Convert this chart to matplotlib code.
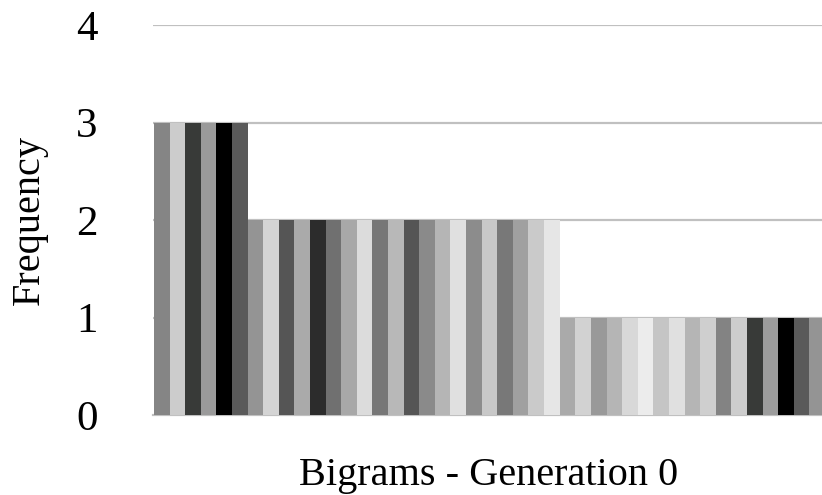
import matplotlib.pyplot as plt

# frecuencia de cada bigrama (generacion 0), en el orden del grafico
freq = [3, 3, 3, 3, 3, 3,
        2, 2, 2, 2, 2, 2, 2, 2, 2, 2, 2, 2, 2, 2, 2, 2, 2, 2, 2, 2,
        1, 1, 1, 1, 1, 1, 1, 1, 1, 1, 1, 1, 1, 1, 1, 1, 1]
yticks = [0, 1, 2, 3, 4]

bar_colors = ["#858585", "#cccccc", "#383a38", "#9a9a9a", "#000000", "#5a5a5a",
              "#949494", "#d4d4d4", "#555555", "#aaaaaa", "#2c2c2c", "#707070",
              "#a8a8a8", "#dcdcdc", "#777777", "#b8b8b8", "#555555", "#8a8a8a",
              "#b5b5b5", "#e0e0e0", "#8c8c8c", "#c8c8c8", "#787878", "#a0a0a0",
              "#cacaca", "#e6e6e6",
              "#aaaaaa", "#d2d2d2", "#999999", "#b5b5b5", "#d8d8d8", "#ececec",
              "#c5c5c5", "#e0e0e0", "#b5b5b5", "#cfcfcf", "#838383", "#cdcdcd",
              "#383a38", "#9c9c9c", "#000000", "#5a5a5a", "#949494"]

plt.rcParams['font.family'] = ['Liberation Serif', 'DejaVu Serif']

fig = plt.figure(figsize=(8.22, 4.95), dpi=100)
ax = fig.add_axes([153 / 822, 80 / 495, 672 / 822, 390 / 495])

x = list(range(len(freq)))
ax.bar(x, freq, width=1.0, color=bar_colors, linewidth=0)

ax.set_xlim(-0.56, 42.5)
ax.set_ylim(0, 4)
ax.set_yticks(yticks)
ax.set_xticks([])
ax.tick_params(axis="y", length=0, pad=40, labelsize=31)
ax.set_axisbelow(True)
ax.grid(axis="y", color="#c0c0c0", linewidth=1.6)
ax.yaxis.get_gridlines()[0].set_clip_on(False)
for s in ax.spines.values():
    s.set_visible(False)

ax.set_ylabel("Frequency", fontsize=29, va="center")
ax.yaxis.set_label_coords(-0.184, 0.5)
ax.set_xlabel("Bigrams - Generation 0", fontsize=29, va="baseline")
ax.xaxis.set_label_coords(0.5, -0.18)

fig.savefig("out.png", dpi=100)
